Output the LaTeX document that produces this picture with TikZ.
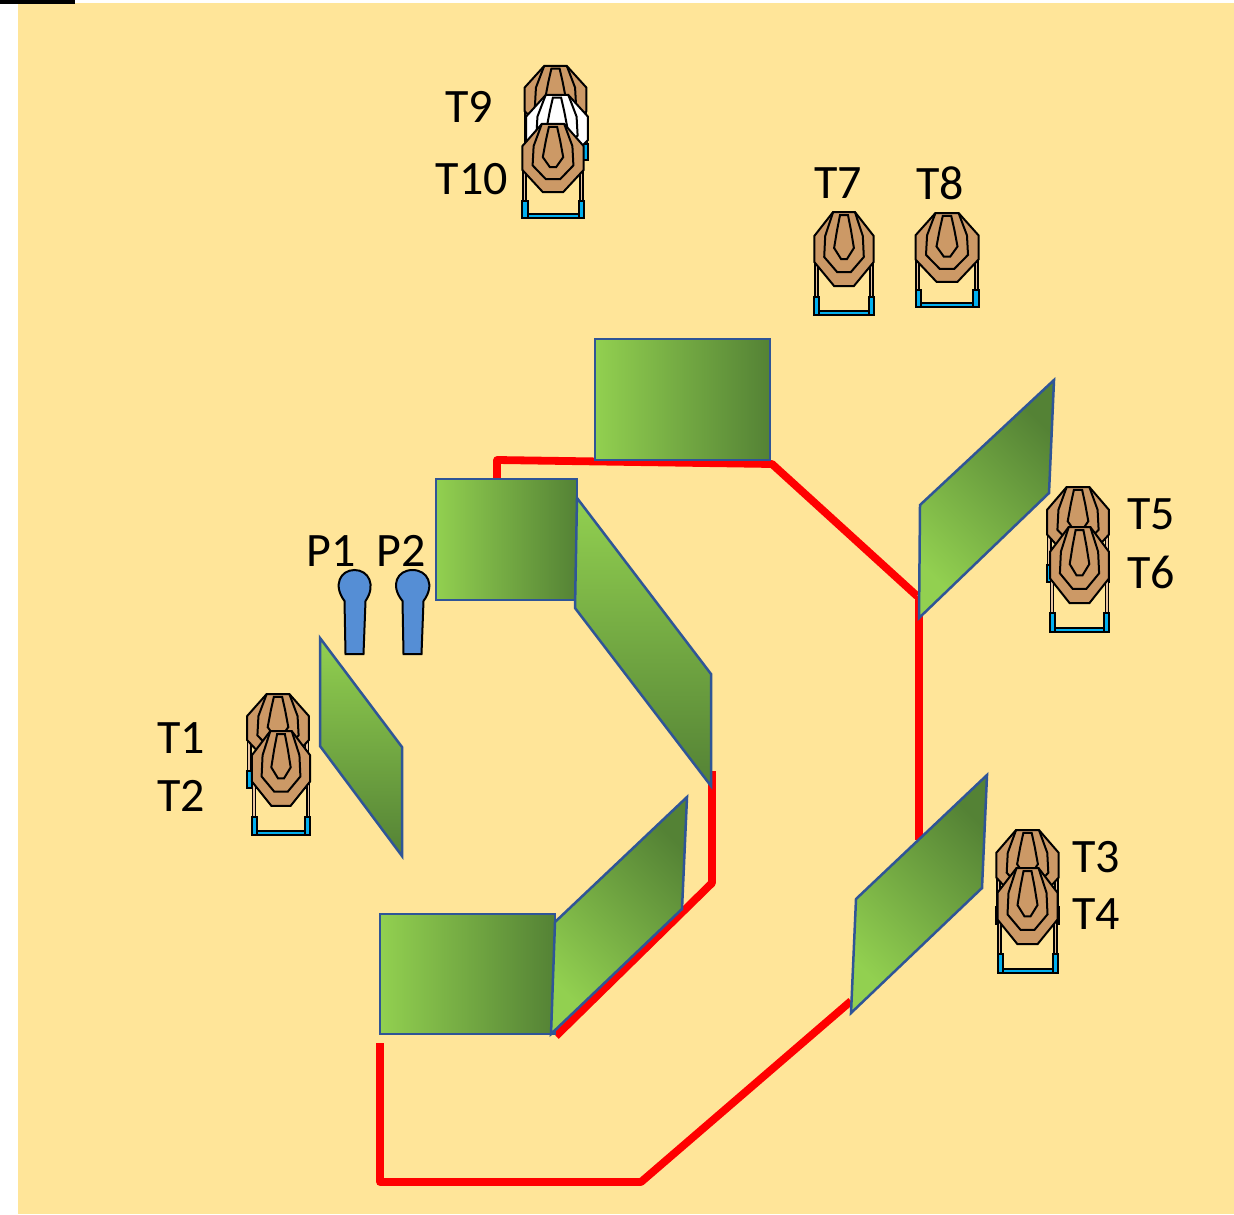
\documentclass[tikz,border=0pt]{standalone}
\usepackage{fontspec}
\setmainfont{Carlito}
\newcommand{\labelfont}{\fontsize{24}{29}\selectfont}
\begin{document}
\begin{tikzpicture}[x=0.5pt,y=-0.5pt,
  every node/.style={font=\labelfont},
  targetline/.style={draw=black,line width=1pt,line join=miter},
  panel/.style={draw=panelline,line width=1.25pt,line join=miter},
  redline/.style={draw=routered,line width=3.9pt,line join=round}]
\definecolor{sandcolor}{RGB}{255,229,153}
\definecolor{panelline}{RGB}{47,85,151}
\definecolor{panellight}{RGB}{146,208,80}
\definecolor{paneldark}{RGB}{84,130,53}
\definecolor{routered}{RGB}{255,0,0}
\definecolor{targetbrown}{RGB}{204,153,102}
\definecolor{legtan}{RGB}{232,196,160}
\definecolor{footblue}{RGB}{0,176,240}
\definecolor{personblue}{RGB}{85,142,213}
\useasboundingbox (0,0) rectangle (1234,1214);
% Ground
\fill[sandcolor] (18,3) rectangle (1234,1214);
\fill[black] (0,0) rectangle (75,4);
% Route
\draw[redline] (380,1043) -- (380,1182) -- (641,1182) -- (851,1001);
\draw[redline] (919,840) -- (919,596);
\draw[redline] (497,479) -- (497,460) -- (772,464) -- (917,596);
\draw[redline] (712,771) -- (712,883) -- (556,1036);
% Walls, flat
\foreach \xa/\ya/\xb/\yb in {595/339/770/460, 436/479/577/600, 380/914/555/1034} {
  \draw[panel,left color=panellight,right color=paneldark] (\xa,\ya) rectangle (\xb,\yb);
}
% Walls, turned
\foreach \xa/\ya/\xb/\yb/\xc/\yc/\xd/\yd/\ang in {
  920/505/1054/380/1049/493/919/618/135,
  856/899/987/775/982/888/851/1013/135,
  555/922/687/797/682/909/551/1034/135,
  577/498/711/674/711/786/575/608/0,
  320/638/402/747/402/856/320/746/0%
} {
  \draw[panel,top color=panellight,bottom color=paneldark,shading angle=\ang]
    (\xa,\ya) -- (\xb,\yb) -- (\xc,\yc) -- (\xd,\yd) -- cycle;
}
% Data: {centre, top, x scale, y scale, stand bottom, colour}
\foreach \cx/\top/\xs/\ys/\bot/\body in {
  555.5/66/1.03/0.9/159/targetbrown,
  557/95/1.03/0.9/160/white,
  553/124/1.02/0.92/218/targetbrown,
  844/212/0.99/1/315/targetbrown,
  947/213/1.05/0.93/307/targetbrown,
  1078/487/1.03/0.95/582/targetbrown,
  1079.5/527/0.98/1.03/632/targetbrown,
  1027.5/830/1.04/0.95/924/targetbrown,
  1027.5/868/1/1.03/973/targetbrown,
  278/694/1.03/0.92/788/targetbrown,
  281/731/0.97/1.01/835/targetbrown%
} {
  \pgfmathsetmacro{\stand}{(\bot-\top)/\ys}
  \begin{scope}[shift={(\cx,\top)},xscale=\xs,yscale=\ys]
    % Stand
    \foreach \side in {-1,1} {
      \draw[targetline,fill=legtan,line width=0.8pt] ({\side*29.5},50) rectangle ({\side*26.5},{\stand-18});
      \draw[targetline,fill=footblue] ({\side*30},{\stand-18}) rectangle ({\side*25},\stand);
    }
    \draw[targetline,fill=footblue] (-25,{\stand-4}) rectangle (25,\stand);
    % Target face
    \draw[targetline,fill=\body] (-11,0) -- (11,0) -- (30,24) -- (30,50) -- (10,74) -- (-10,74) -- (-30,50) -- (-30,24) -- cycle;
    \draw[targetline] (-11,0) -- (-19,24) -- (-20,45) -- (-7,60) -- (7,60) -- (20,45) -- (19,24) -- (11,0);
    \draw[targetline] (-4,3) -- (4,3) -- (7,18) -- (10,36) -- (3,47) -- (-3,47) -- (-10,36) -- (-7,18) -- cycle;
  \end{scope}
}
% Persons
\foreach \px/\hw in {354.5/17, 412.5/18} {
  \draw[targetline,fill=personblue] ({\px-10},601)
    .. controls ({\px-\hw-5},585) and ({\px-\hw+3},570) .. (\px,570)
    .. controls ({\px+\hw-3},570) and ({\px+\hw+5},585) .. ({\px+11},601)
    -- ({\px+9},654) -- ({\px-9},654) -- cycle;
}
% Labels
\foreach \name/\lx/\ly in {
  T1/181/738, T2/181/796, T3/1096/857, T4/1096/914, T5/1151/514, T6/1151/572,
  T7/838/183, T8/940/183, T9/469/107, T10/472/179, P1/331/551, P2/401/551%
} {
  \node (\name) at (\lx,\ly) {\name};
}
\end{tikzpicture}
\end{document}
